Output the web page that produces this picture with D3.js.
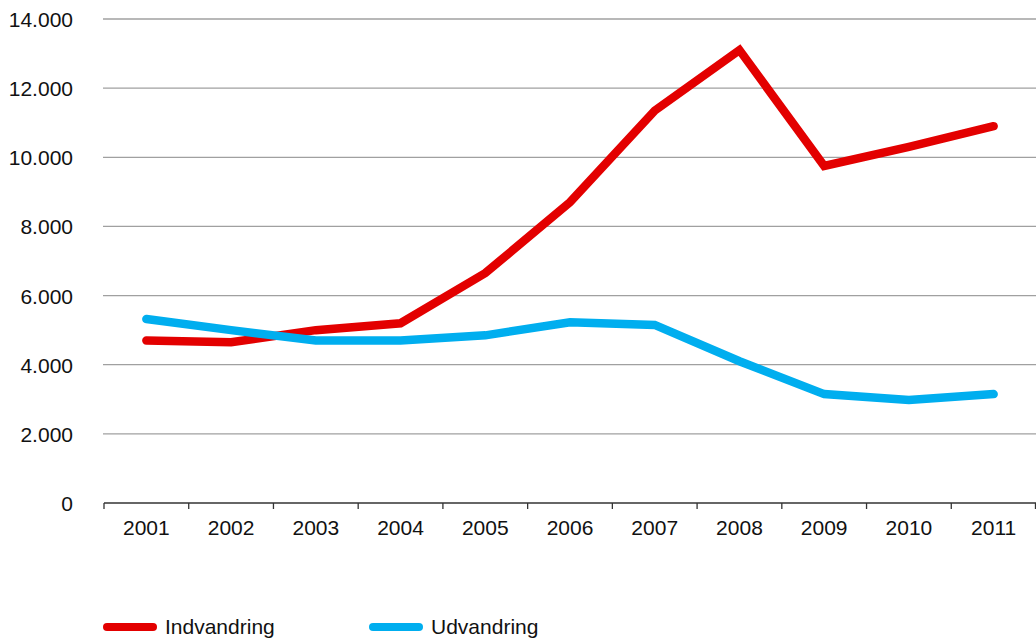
<!DOCTYPE html>
<html><head><meta charset="utf-8">
<script src="https://cdn.jsdelivr.net/npm/d3@7"></script>
<style>body{margin:0;background:#fff}svg{display:block}text{font-family:"Liberation Sans",Arial,Helvetica,sans-serif;fill:#111}</style>
</head><body>
<svg id="c" width="1036" height="640"></svg>
<script>
const years = ["2001","2002","2003","2004","2005","2006","2007","2008","2009","2010","2011"];
const indvandring = [4700,4650,5000,5200,6650,8700,11350,13100,9750,10300,10900];
const udvandring = [5320,5000,4700,4700,4850,5230,5150,4100,3150,2980,3150];
const yTicks = [0,2000,4000,6000,8000,10000,12000,14000];
const seriesNames = ["Indvandring","Udvandring"];
const colors = ["#e30000","#00aeef"];

const svg = d3.select("#c");
const pL = 104, pR = 1036, pT = 19, pB = 503;
const x = d3.scaleBand().domain(years).range([pL, pR]);
const y = d3.scaleLinear().domain([0,14000]).range([pB, pT]);
const fmt = v => v === 0 ? "0" : d3.format(",")(v).replace(/,/g, ".");
const FS = 21;

// grid
svg.append("g").selectAll("line").data(yTicks.filter(d=>d>0)).join("line")
  .attr("x1", pL-1).attr("x2", pR)
  .attr("y1", d=>y(d)).attr("y2", d=>y(d))
  .attr("stroke", "#a0a0a0").attr("stroke-width", 1.3);

// y labels
svg.append("g").selectAll("text").data(yTicks).join("text")
  .attr("x", 73).attr("y", d=>y(d)+8)
  .attr("text-anchor","end").attr("font-size", FS).text(fmt);

// x axis
const xa = svg.append("g");
xa.append("line").attr("x1", pL).attr("x2", pR).attr("y1", pB).attr("y2", pB)
  .attr("stroke","#333").attr("stroke-width",1.5);
const bounds = years.map(d=>x(d)).concat([pR-0.5]);
xa.selectAll("line.t").data(bounds).join("line").attr("class","t")
  .attr("x1", d=>d).attr("x2", d=>d).attr("y1", pB).attr("y2", pB+6)
  .attr("stroke","#333").attr("stroke-width",1.3);
xa.selectAll("text").data(years).join("text")
  .attr("x", d=>x(d)+x.bandwidth()/2).attr("y", 535)
  .attr("text-anchor","middle").attr("font-size",FS).text(d=>d);

// lines
const line = d3.line().x((d,i)=>x(years[i])+x.bandwidth()/2).y(d=>y(d));
[indvandring, udvandring].forEach((s,i)=>{
  svg.append("path").attr("d", line(s)).attr("fill","none")
    .attr("stroke", colors[i]).attr("stroke-width", 8.5)
    .attr("stroke-linecap","round").attr("stroke-linejoin","miter");
});

// legend
const lx = [104, 370];
seriesNames.forEach((n,i)=>{
  svg.append("line").attr("x1", lx[i]+3).attr("x2", lx[i]+49).attr("y1", 627).attr("y2", 627)
    .attr("stroke", colors[i]).attr("stroke-width", 8).attr("stroke-linecap","round");
  svg.append("text").attr("x", lx[i]+61).attr("y", 634)
    .attr("font-size",FS).text(n);
});
</script>
</body></html>
